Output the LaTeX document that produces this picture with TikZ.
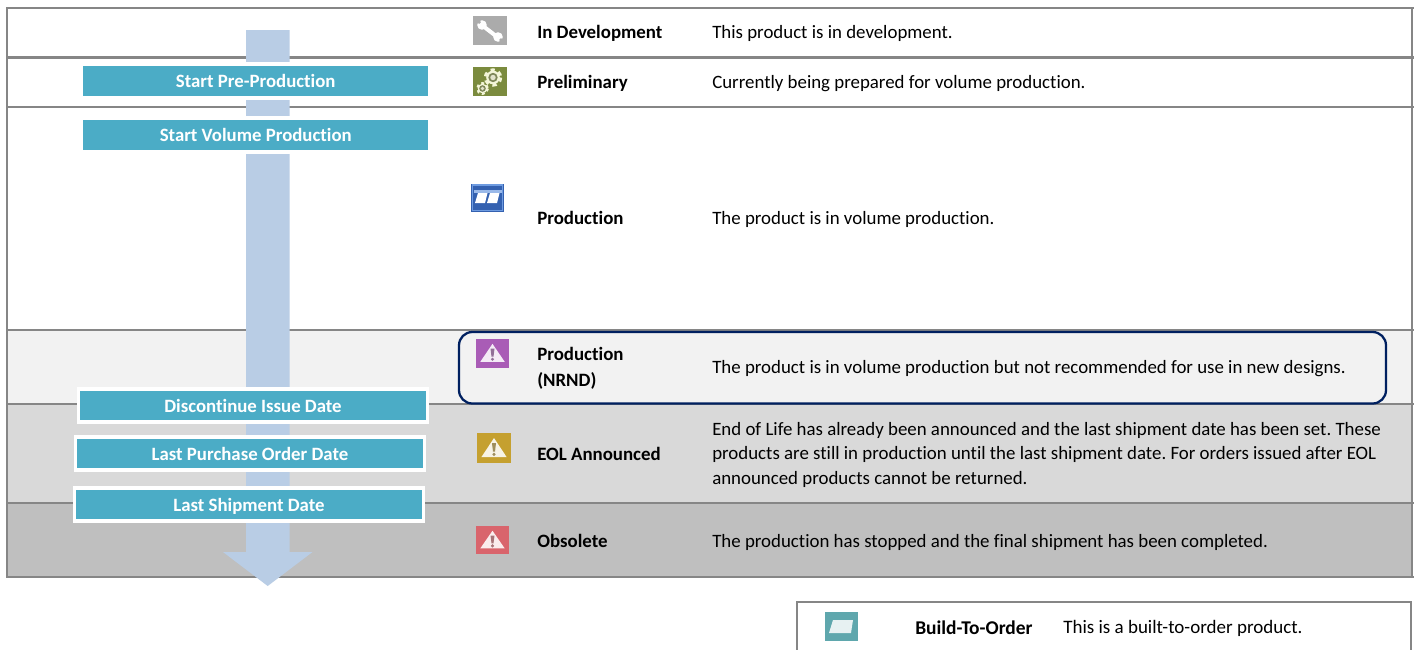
\documentclass[tikz,border=0pt]{standalone}
\usepackage{fontspec}
\setmainfont{Carlito}[Ligatures=NoCommon]
\definecolor{rule}{HTML}{868686}
\definecolor{teal}{HTML}{4BACC6}
\definecolor{shaft}{HTML}{B9CDE5}
\definecolor{navy}{HTML}{002060}
\definecolor{wrenchbg}{HTML}{ABABAB}
\definecolor{gearbg}{HTML}{7B8B3E}
\definecolor{gearfg}{HTML}{F3F5D8}
\definecolor{prodbg}{HTML}{3461B0}
\definecolor{prodrim}{HTML}{6E9BE0}
\definecolor{nrndbg}{HTML}{A95CB6}
\definecolor{eolbg}{HTML}{C5A02F}
\definecolor{obsbg}{HTML}{D9646C}
\definecolor{btobg}{HTML}{5FA7AD}
\tikzset{
  x=0.75pt,y=-0.75pt,
  tablerule/.style={draw=rule,line width=#1},
  tablerule/.default=2pt,
  datebox/.style={fill=teal,text=white,inner sep=0pt,anchor=center,font=\fontsize{14.1}{17}\selectfont\bfseries\frenchspacing,execute at begin node={\rule[-5pt]{0pt}{19.8pt}}},
  startbox/.style={datebox,draw=white,line width=3pt,minimum width=262pt,minimum height=25.5pt},
  framed/.style={datebox,draw=white,line width=2.6pt,minimum width=261.4pt,minimum height=24.75pt},
  statuslabel/.style={anchor=west,inner sep=0pt,yshift=-0.75pt,font=\fontsize{14.15}{19.5}\selectfont\bfseries\frenchspacing,align=left,text=black,execute at begin node=\strut,execute at end node=\strut},
  statustext/.style={anchor=west,inner sep=0pt,yshift=-1.5pt,font=\fontsize{14.15}{18.4}\selectfont\frenchspacing,align=left,text=black,execute at begin node=\strut,execute at end node=\strut},
  wrenchline/.style={draw=white,line cap=round},
}
\newcommand{\warnicon}[5]{% x y w h colour
  \fill[#5] (#1,#2) rectangle ++(#3,#4);
  \fill[white,opacity=.88] (#1+#3*.5,#2+#4*.17) -- (#1+#3*.87,#2+#4*.80) -- (#1+#3*.13,#2+#4*.80) -- cycle;
  \fill[#5!45!gray] (#1+#3*.5-2,#2+#4*.34) -- (#1+#3*.5+2,#2+#4*.34) -- (#1+#3*.5+1,#2+#4*.62) -- (#1+#3*.5-1,#2+#4*.62) -- cycle;
  \fill[#5!45!gray] (#1+#3*.5,#2+#4*.71) circle (1.7);
}
\newcommand{\gearicon}[3]{% x y radius
  \draw[gearfg,line width=#3*0.3pt,dash pattern=on #3*0.36pt off #3*0.36pt] (#1,#2) circle (#3*0.88);
  \fill[gearfg] (#1,#2) circle (#3*0.8);
  \fill[gearbg!60!gray] (#1,#2) circle (#3*0.55);
  \fill[gearfg!85!gray] (#1,#2) circle (#3*0.32);
}
\begin{document}
\begin{tikzpicture}
\useasboundingbox (0,0) rectangle (1418,650);
\fill[white] (0,0) rectangle (1418,650);
% row fills
\fill[black!5] (7,330) rectangle (1412,404);
\fill[black!15] (7,404) rectangle (1412,503);
\fill[black!25] (7,503) rectangle (1412,577);
% table rules
\draw[tablerule=1.6pt] (6,8) -- (1414,8);
\draw[tablerule=2.2pt] (6,57.5) -- (1414,57.5);
\draw[tablerule=1.6pt] (6,107) -- (1414,107);
\draw[tablerule=1.9pt] (6,330) -- (1414,330);
\draw[tablerule=2.2pt] (6,404) -- (1414,404);
\draw[tablerule=2.2pt] (6,503) -- (1414,503);
\draw[tablerule=2.2pt] (6,577) -- (1414,577);
\draw[tablerule=1.7pt] (7,8) -- (7,578);
\draw[tablerule=1.7pt] (1412,8) -- (1412,578);
% arrow
\fill[shaft] (246,30) -- (289.5,30) -- (289.5,552) -- (312.5,552) -- (267.7,586) -- (223,552) -- (246,552) -- cycle;
% date boxes
\node[startbox] (prepro) at (255.75,81) {Start Pre-Production};
\node[startbox] (volume) at (255.75,134.5) {Start Volume Production};
\node[framed] (disc) at (253,405.5) {Discontinue Issue Date};
\node[framed] (lastpo) at (250,453.5) {Last Purchase Order Date};
\node[framed] (lastship) at (249,504.5) {Last Shipment Date};
% NRND frame
\draw[navy,line width=1.7pt,rounded corners=10pt] (459,332) rectangle (1386,403.5);
% wrench icon
\fill[wrenchbg] (473,16) rectangle (507,45);
\draw[wrenchline,line width=3pt] (483,26) -- (496,36);
\fill[white] (482,25) circle (4.8);
\fill[white] (498,37) circle (4.8);
\draw[wrenchbg,line width=2pt] (480,23) -- (477,20);
\draw[wrenchbg,line width=2pt] (500,39) -- (503,42);
% gears icon
\fill[gearbg] (473,67) rectangle (507,96);
\gearicon{493}{77.5}{8.5}
\gearicon{482.5}{88.5}{6}
% production icon
\fill[prodbg] (471,183.5) rectangle (504,212);
\draw[prodrim,line width=1pt] (472.5,185) rectangle (502.5,210.5);
\fill[prodrim!70!white] (473.5,190) rectangle (501.5,193);
\fill[white] (478,193) -- (487.5,193) -- (485,203) -- (475,203) -- cycle;
\fill[white] (490,193) -- (499.5,193) -- (497,203) -- (487,203) -- cycle;
% warning icons
\warnicon{476}{339}{33}{28.5}{nrndbg}
\warnicon{477}{433}{34}{30}{eolbg}
\warnicon{476}{526}{33}{28}{obsbg}
% status labels
\node[statuslabel] (l1) at (537,32) {In Development};
\node[statuslabel] (l2) at (537,82) {Preliminary};
\node[statuslabel] (l3) at (537,218) {Production};
\node[statuslabel] (l4) at (537,370) {Production\\(NRND)};
\node[statuslabel] (l5) at (537,454) {EOL Announced};
\node[statuslabel] (l6) at (537,541) {Obsolete};
% descriptions
\node[statustext] (t1) at (712,32) {This product is in development.};
\node[statustext] (t2) at (712,82) {Currently being prepared for volume production.};
\node[statustext] (t3) at (712,218) {The product is in volume production.};
\node[statustext] (t4) at (712,367) {The product is in volume production but not recommended for use in new designs.};
\node[statustext] (t5) at (712,455) {End of Life has already been announced and the last shipment date has been set. These\\products are still in production until the last shipment date. For orders issued after EOL\\announced products cannot be returned.};
\node[statustext] (t6) at (712,541) {The production has stopped and the final shipment has been completed.};
% build to order
\draw[tablerule=1.9pt] (797,650) -- (797,602) -- (1411,602) -- (1411,650);
\fill[btobg] (825,612) rectangle (858,641);
\fill[white,opacity=.85] (833,620) -- (853,620) -- (851,633) -- (829,633) -- cycle;
\node[statuslabel,font=\fontsize{14.6}{19.5}\selectfont\bfseries] (l7) at (915,628) {Build-To-Order};
\node[statustext,font=\fontsize{14.25}{18.4}\selectfont] (t7) at (1063,627) {This is a built-to-order product.};
\end{tikzpicture}
\end{document}
